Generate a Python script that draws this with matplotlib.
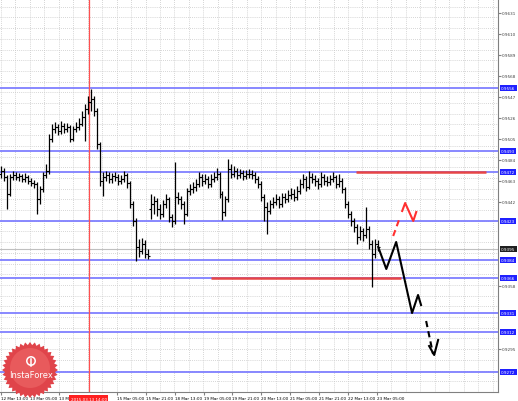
import numpy as np
import matplotlib
matplotlib.use("Agg")
import matplotlib.pyplot as plt
from matplotlib.patches import Polygon, Circle
from matplotlib.transforms import blended_transform_factory

# hourly bars, prices in pips (x 0.0001)
opens = [9470, 9473, 9467, 9450, 9467, 9469, 9467, 9468, 9465, 9467, 9463, 9461, 9460, 9445, 9455, 9469,
         9473, 9505, 9515, 9517, 9513, 9518, 9515, 9517, 9505, 9515, 9517, 9520, 9527, 9535, 9542, 9545,
         9533, 9500, 9463, 9467, 9469, 9465, 9468, 9467, 9463, 9465, 9469, 9461, 9440, 9423, 9397, 9393,
         9400, 9390, 9435, 9440, 9443, 9435, 9430, 9440, 9445, 9427, 9423, 9447, 9445, 9440, 9430, 9453,
         9455, 9457, 9460, 9467, 9463, 9465, 9460, 9465, 9467, 9470, 9450, 9432, 9445, 9475, 9470, 9473,
         9469, 9471, 9468, 9470, 9470, 9469, 9465, 9460, 9447, 9437, 9433, 9440, 9442, 9445, 9440, 9447,
         9445, 9449, 9450, 9447, 9453, 9460, 9465, 9457, 9467, 9465, 9463, 9460, 9467, 9463, 9462, 9465,
         9467, 9460, 9463, 9455, 9440, 9430, 9423, 9417, 9407, 9413, 9409, 9415, 9400, 9390, 9400]
closes = [9473, 9467, 9450, 9467, 9469, 9467, 9468, 9465, 9467, 9463, 9461, 9460, 9445, 9455, 9469, 9473,
          9505, 9515, 9517, 9513, 9518, 9515, 9517, 9505, 9515, 9517, 9520, 9527, 9535, 9542, 9545, 9533,
          9500, 9463, 9467, 9469, 9465, 9468, 9467, 9463, 9465, 9469, 9461, 9440, 9423, 9397, 9393, 9400,
          9390, 9388, 9440, 9443, 9435, 9430, 9440, 9445, 9427, 9423, 9447, 9445, 9440, 9430, 9453, 9455,
          9457, 9460, 9467, 9463, 9465, 9460, 9465, 9467, 9470, 9450, 9432, 9445, 9475, 9470, 9473, 9469,
          9471, 9468, 9470, 9470, 9469, 9465, 9460, 9447, 9437, 9433, 9440, 9442, 9445, 9440, 9447, 9445,
          9449, 9450, 9447, 9453, 9460, 9465, 9457, 9467, 9465, 9463, 9460, 9467, 9463, 9462, 9465, 9467,
          9460, 9463, 9455, 9440, 9430, 9423, 9417, 9407, 9413, 9409, 9415, 9400, 9390, 9400, 9397]
highs = [9478, 9476, 9469, 9470, 9473, 9472, 9471, 9470, 9471, 9469, 9466, 9464, 9462, 9458, 9472, 9480,
         9510, 9520, 9522, 9520, 9523, 9521, 9521, 9519, 9518, 9522, 9526, 9533, 9540, 9548, 9555, 9548,
         9536, 9502, 9472, 9473, 9472, 9471, 9472, 9470, 9469, 9473, 9471, 9463, 9443, 9426, 9405, 9406,
         9404, 9395, 9450, 9448, 9446, 9440, 9444, 9450, 9447, 9430, 9482, 9452, 9448, 9443, 9456, 9460,
         9462, 9465, 9472, 9470, 9470, 9468, 9470, 9472, 9476, 9472, 9453, 9448, 9485, 9480, 9478, 9476,
         9475, 9474, 9474, 9475, 9474, 9472, 9468, 9463, 9450, 9442, 9444, 9447, 9450, 9448, 9451, 9451,
         9454, 9456, 9455, 9458, 9465, 9470, 9468, 9473, 9471, 9469, 9466, 9472, 9470, 9468, 9469, 9472,
         9469, 9470, 9466, 9457, 9443, 9433, 9426, 9420, 9418, 9416, 9437, 9418, 9404, 9405, 9404]
lows = [9466, 9463, 9435, 9448, 9464, 9464, 9463, 9462, 9462, 9460, 9458, 9456, 9430, 9440, 9452, 9466,
        9470, 9502, 9511, 9509, 9510, 9511, 9512, 9502, 9503, 9512, 9514, 9518, 9503, 9530, 9533, 9528,
        9495, 9458, 9448, 9463, 9461, 9461, 9463, 9459, 9460, 9462, 9456, 9436, 9418, 9383, 9387, 9390,
        9386, 9385, 9425, 9430, 9428, 9425, 9427, 9436, 9422, 9417, 9420, 9440, 9435, 9420, 9428, 9449,
        9451, 9453, 9457, 9458, 9460, 9456, 9457, 9462, 9464, 9446, 9424, 9428, 9442, 9466, 9467, 9465,
        9466, 9464, 9465, 9466, 9465, 9461, 9456, 9443, 9423, 9410, 9430, 9436, 9439, 9436, 9437, 9441,
        9442, 9445, 9443, 9444, 9450, 9456, 9453, 9455, 9461, 9458, 9455, 9457, 9459, 9458, 9459, 9462,
        9456, 9457, 9451, 9436, 9426, 9418, 9412, 9400, 9404, 9403, 9406, 9395, 9357, 9386, 9393]

# horizontal support / resistance levels (blue) and current bid
levels = [0.9556, 0.9493, 0.9472, 0.9423, 0.9384, 0.9366, 0.9331, 0.9312, 0.9272]
bid = 0.9395
grey_ticks = [0.9631, 0.9610, 0.9589, 0.9568, 0.9547, 0.9526, 0.9505, 0.9484, 0.9463,
              0.9442, 0.9358, 0.9295]

# red horizontal segments: (price, bar start, bar end)
red_segments = [(0.9472, 118.7, 162.0), (0.9366, 70.0, 133.7)]
marker_bar = 29.3
marker_label = "2015.03.13 14:00"

# hand drawn forecast arrows (bar index, price)
main_x = [126, 128.7, 132, 137.3, 139.3, 140.3]
main_y = [0.9397, 0.9375, 0.9402, 0.9331, 0.9349, 0.9339]
down_x = [142, 144.3]
down_y = [0.9323, 0.9290]
down_head_x = [143, 144.7, 146]
down_head_y = [0.9298, 0.9289, 0.9304]
alt_x = [131, 133.3]
alt_y = [0.9408, 0.9427]
alt_head_x = [134, 135, 137.7, 138.7]
alt_head_y = [0.9433, 0.9441, 0.9423, 0.9432]

xtick_pos = [0, 9.67, 19.33, 38.67, 48.33, 58, 67.67, 77.33, 87, 96.67, 106.33, 116, 125.67]
xtick_labels = ["12 Mar 13:00", "13 Mar 05:00", "13 Mar 21:00", "15 Mar 05:00", "15 Mar 21:00",
                "18 Mar 13:00", "19 Mar 05:00", "19 Mar 21:00", "20 Mar 13:00", "21 Mar 05:00",
                "21 Mar 21:00", "22 Mar 13:00", "23 Mar 05:00"]

o = np.array(opens) / 10000
c = np.array(closes) / 10000
h = np.array(highs) / 10000
l = np.array(lows) / 10000
idx = np.arange(len(c))

FS = 3.0
W, H = 518, 402
fig = plt.figure(figsize=(W / 100, H / 100), dpi=100)
ax = fig.add_axes([0, 9 / H, 498 / W, 393 / H])
ax.set_xlim(-0.3, 166)
ax.set_ylim(0.9252, 0.9645)

# dotted grid
for gx in np.arange(0, 166, 4.83):
    ax.axvline(gx, color="#c8c8c8", lw=0.6, ls=(0, (1, 1.5)), zorder=0)
for gy in np.arange(0.9252, 0.9645, 0.00107):
    ax.axhline(gy, color="#c8c8c8", lw=0.6, ls=(0, (1, 1.5)), zorder=0)

for lv in levels:
    ax.axhline(lv, color="#7f7fff", lw=1.3, zorder=1)
ax.axhline(bid, color="#c0c0c0", lw=0.8, zorder=1)
ax.axvline(marker_bar, color="#ff5050", lw=0.9, zorder=1)
for price, x0, x1 in red_segments:
    ax.hlines(price, x0, x1, color="#e84545", lw=1.8, zorder=2)

# OHLC bars
ax.vlines(idx, l, h, color="black", lw=0.9, zorder=3)
ax.hlines(o, idx - 0.7, idx, color="black", lw=0.8, zorder=3)
ax.hlines(c, idx, idx + 0.7, color="black", lw=0.8, zorder=3)

# forecast arrows
ax.plot(main_x, main_y, color="black", lw=1.5, zorder=4)
ax.plot(down_x, down_y, color="black", lw=1.5, ls=(0, (3, 2)), zorder=4)
ax.plot(down_head_x, down_head_y, color="black", lw=1.5, zorder=4)
ax.plot(alt_x, alt_y, color="#ff3030", lw=1.5, ls=(0, (3, 2)), zorder=4)
ax.plot(alt_head_x, alt_head_y, color="#ff3030", lw=1.5, zorder=4)

for side in ["left", "top"]:
    ax.spines[side].set_visible(False)
for side in ["right", "bottom"]:
    ax.spines[side].set_color("#808080")
    ax.spines[side].set_linewidth(0.8)

ax.set_xticks(xtick_pos)
ax.set_xticklabels(xtick_labels, fontsize=FS, ha="left")
ax.tick_params(axis="x", length=2, pad=1, color="#808080")
ax.yaxis.tick_right()
ax.set_yticks(grey_ticks)
ax.set_yticklabels([f"{v:.4f}" for v in grey_ticks], fontsize=FS, color="#404040")
ax.tick_params(axis="y", length=2, pad=1, color="#808080")

# level labels on the price axis
tr = blended_transform_factory(ax.transAxes, ax.transData)
for lv in levels:
    ax.text(1.006, lv, f"{lv:.4f}", transform=tr, fontsize=FS, color="white", va="center",
            ha="left", clip_on=False, zorder=6,
            bbox=dict(boxstyle="square,pad=0.3", fc="#2020ff", ec="none"))
ax.text(1.006, bid, f"{bid:.4f}", transform=tr, fontsize=FS, color="white", va="center",
        ha="left", clip_on=False, zorder=6,
        bbox=dict(boxstyle="square,pad=0.3", fc="#202020", ec="none"))

# marker date label under the red vertical line
trx = blended_transform_factory(ax.transData, ax.transAxes)
ax.text(marker_bar, -0.012, marker_label, transform=trx, fontsize=FS, color="white",
        ha="center", va="top", clip_on=False, zorder=6,
        bbox=dict(boxstyle="square,pad=0.3", fc="#ff2020", ec="none"))

# InstaForex badge
lax = fig.add_axes([0, 0, 1, 1], zorder=5)
lax.set_xlim(0, W)
lax.set_ylim(H, 0)
lax.axis("off")
ang = np.linspace(0, 2 * np.pi, 73)[:-1]
rad = np.where(np.arange(72) % 2 == 0, 28, 25)
star = np.column_stack([30 + rad * np.cos(ang), 371 + rad * np.sin(ang)])
lax.add_patch(Polygon(star, closed=True, fc="#e0444a", ec="none"))
lax.add_patch(Circle((30, 369), 20, fc="#e85a5c", ec="none"))
lax.add_patch(Circle((31, 362), 4.2, fc="none", ec="white", lw=1.1))
lax.plot([31, 31], [360, 366.5], color="white", lw=1.1)
lax.text(31, 376, "InstaForex", color="white", fontsize=6, ha="center", va="center")

fig.savefig("out.png", dpi=100)
